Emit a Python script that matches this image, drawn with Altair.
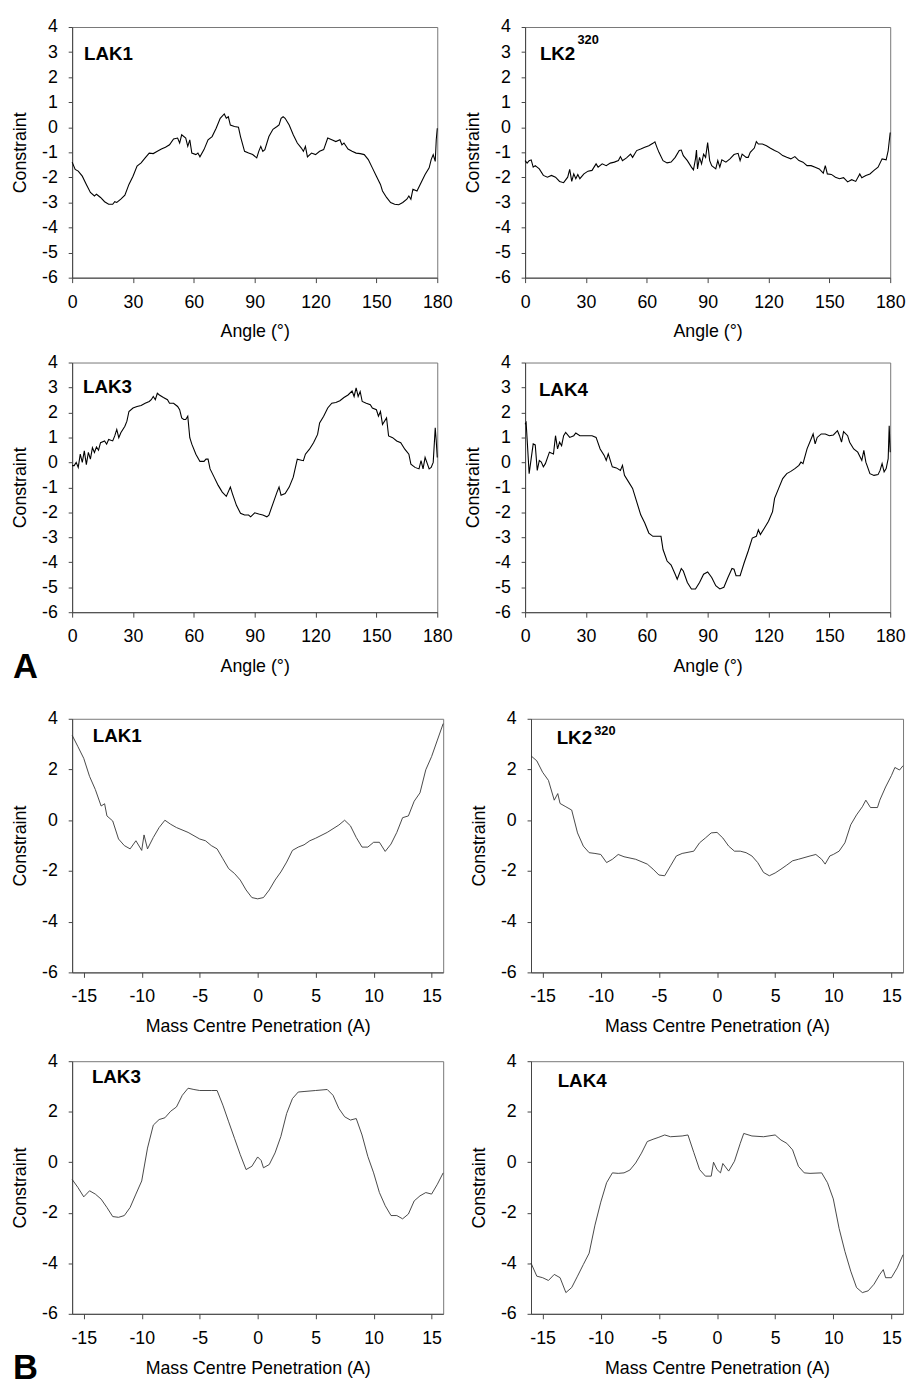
import altair as alt
import pandas as pd

FONT = "Liberation Sans"

# ---------------- Section A : constraint vs angle ----------------
a_xticks = [0, 30, 60, 90, 120, 150, 180]
a_yticks = [-6, -5, -4, -3, -2, -1, 0, 1, 2, 3, 4]

a1_x = [0, 1.5, 3, 5, 7, 9, 11, 12, 14, 16,
        18, 20, 21, 22, 24, 26, 28, 30, 32, 34,
        36, 38, 40, 42, 44, 46, 48, 50, 52, 53,
        54, 56, 57, 58, 59, 61, 62, 63, 65, 67,
        69, 71, 73, 75, 76, 77, 78, 80, 82, 83,
        85, 87, 89, 91, 92, 93, 94, 95, 97, 99,
        101, 102, 103, 104, 105, 107, 109, 111, 113, 114,
        115, 116, 118, 120, 122, 124, 126, 128, 130, 132,
        133, 134, 136, 138, 140, 142, 144, 146, 148, 150,
        152, 153, 155, 157, 159, 161, 163, 165, 166, 167,
        168, 170, 172, 174, 176, 177, 178, 179, 179.5, 180]
a1_y = [-1.39, -1.68, -1.75, -1.95, -2.28, -2.6, -2.74, -2.67, -2.8, -2.97,
        -3.07, -3.07, -2.97, -3.0, -2.87, -2.71, -2.28, -1.95, -1.55, -1.42,
        -1.22, -1.03, -1.05, -0.96, -0.87, -0.8, -0.7, -0.47, -0.43, -0.63,
        -0.3, -0.43, -0.76, -0.5, -1.03, -1.09, -1.03, -1.18, -0.89, -0.5,
        -0.37, -0.04, 0.36, 0.53, 0.36, 0.42, 0.09, 0.03, 0.0, -0.37,
        -0.96, -1.03, -1.09, -1.22, -0.96, -0.76, -0.96, -0.89, -0.37, -0.08,
        0.03, 0.09, 0.36, 0.42, 0.36, 0.09, -0.3, -0.63, -0.83, -0.96,
        -0.76, -1.18, -1.03, -1.09, -0.96, -0.89, -0.43, -0.5, -0.57, -0.5,
        -0.7, -0.63, -0.87, -0.96, -1.03, -1.05, -1.09, -1.29, -1.62, -1.95,
        -2.28, -2.54, -2.8, -3.0, -3.07, -3.09, -3.0, -2.87, -2.74, -2.87,
        -2.47, -2.54, -2.21, -1.88, -1.62, -1.29, -1.09, -1.36, -0.5, -0.04]

a2_x = [0, 1, 2, 3, 4, 5, 7, 9, 11, 13,
        15, 17, 19, 21, 22, 23, 24, 25, 26, 27,
        29, 31, 33, 35, 36, 38, 40, 42, 44, 46,
        47, 48, 50, 52, 53, 55, 57, 59, 61, 63,
        64, 65, 66, 68, 70, 72, 74, 76, 77, 78,
        80, 82, 83, 84, 84.5, 85, 86, 87, 88, 89,
        90, 91, 92, 94, 95, 96, 97, 99, 101, 103,
        105, 106, 107, 109, 110, 111, 113, 114, 115, 117,
        119, 121, 123, 125, 127, 129, 131, 133, 135, 137,
        139, 141, 143, 145, 147, 148, 149, 151, 153, 155,
        157, 159, 161, 163, 165, 166, 168, 170, 172, 174,
        176, 178, 179, 180]
a2_y = [-1.33, -1.43, -1.33, -1.30, -1.59, -1.53, -1.66, -1.92, -1.99, -1.92,
        -1.99, -2.16, -2.21, -1.99, -1.68, -2.16, -1.86, -2.05, -1.88, -2.05,
        -1.86, -1.75, -1.72, -1.46, -1.59, -1.46, -1.53, -1.43, -1.39, -1.33,
        -1.17, -1.33, -1.22, -1.07, -1.2, -0.93, -0.87, -0.8, -0.74, -0.64,
        -0.58, -0.8, -1.0, -1.33, -1.42, -1.39, -1.2, -0.93, -0.91, -1.13,
        -1.33, -1.59, -1.70, -1.26, -0.91, -1.66, -1.2, -1.46, -1.07, -1.2,
        -0.61, -1.33, -1.53, -1.66, -1.33, -1.59, -1.30, -1.39, -1.26, -1.09,
        -1.04, -1.33, -1.07, -1.2, -1.2, -1.0, -0.83, -0.57, -0.67, -0.67,
        -0.74, -0.84, -0.93, -1.0, -1.13, -1.2, -1.26, -1.17, -1.33, -1.39,
        -1.53, -1.53, -1.59, -1.66, -1.83, -1.53, -1.86, -1.88, -1.99, -2.05,
        -2.01, -2.18, -2.09, -2.16, -1.86, -2.01, -1.92, -1.86, -1.72, -1.59,
        -1.26, -1.30, -0.93, -0.21]

a3_x = [0, 1, 2, 3, 4, 5, 6, 7, 8, 9,
        10, 11, 12, 13, 14, 16, 17, 18, 20, 21,
        22, 23, 24, 26, 27, 28, 30, 32, 34, 36,
        38, 39, 40, 41, 42, 43, 45, 47, 48, 50,
        52, 53, 54, 55, 56, 57, 58, 59, 61, 63,
        65, 66, 67, 68, 70, 72, 74, 76, 78, 79,
        81, 83, 85, 87, 88, 90, 92, 94, 96, 97,
        99, 101, 102, 103, 105, 107, 109, 111, 113, 114,
        115, 117, 119, 121, 122, 124, 126, 128, 130, 132,
        134, 136, 138, 139, 140, 141, 142, 143, 145, 147,
        148, 150, 151, 152, 153, 155, 156, 158, 160, 162,
        164, 166, 167, 169, 171, 172, 173, 174, 176, 177,
        178, 179, 179.5, 180]
a3_y = [-0.13, -0.13, 0.0, -0.2, 0.33, 0.0, 0.46, -0.09, 0.40, 0.13,
        0.59, 0.4, 0.62, 0.49, 0.79, 0.86, 0.73, 0.92, 0.86, 1.06,
        1.32, 0.99, 1.19, 1.45, 1.65, 2.04, 2.18, 2.24, 2.28, 2.37,
        2.44, 2.51, 2.64, 2.51, 2.77, 2.7, 2.6, 2.51, 2.37, 2.37,
        2.24, 2.11, 1.78, 1.72, 1.72, 1.85, 0.99, 0.73, 0.33, 0.04,
        0.04, 0.13, 0.13, -0.26, -0.59, -0.92, -1.19, -1.36, -0.99, -1.25,
        -1.72, -2.04, -2.11, -2.11, -2.18, -2.02, -2.07, -2.11, -2.18, -2.11,
        -1.65, -1.19, -0.99, -1.32, -1.25, -0.99, -0.59, 0.13, 0.09, 0.07,
        0.33, 0.53, 0.79, 1.12, 1.58, 1.85, 2.18, 2.37, 2.4, 2.47,
        2.6, 2.7, 2.86, 2.64, 2.99, 2.64, 2.84, 2.44, 2.37, 2.31,
        2.18, 2.11, 1.85, 2.04, 1.52, 1.78, 1.06, 0.99, 0.86, 0.79,
        0.53, 0.33, -0.07, -0.2, -0.26, 0.07, -0.26, 0.2, -0.26, -0.2,
        0.0, 1.39, 0.86, 0.2]

a4_x = [0, 0.5, 1, 2, 3, 4, 5, 6, 7, 8,
        9, 10, 12, 14, 15, 16, 17, 18, 19, 20,
        22, 24, 25, 27, 29, 31, 33, 35, 37, 39,
        40, 41, 43, 45, 47, 48, 49, 51, 53, 55,
        57, 59, 61, 63, 65, 67, 68, 70, 72, 74,
        75, 77, 78, 80, 82, 84, 86, 88, 90, 92,
        94, 96, 98, 100, 102, 103, 104, 106, 108, 110,
        112, 114, 115, 116, 118, 120, 122, 123, 125, 127,
        129, 131, 133, 135, 136, 137, 139, 141, 142, 143,
        144, 146, 148, 150, 152, 154, 155, 156, 157, 159,
        160, 162, 164, 166, 167, 168, 170, 172, 174, 175,
        176, 177, 178, 179, 179.5, 180]
a4_y = [1.53, 1.6, 0.94, -0.45, 0.15, 0.74, 0.7, -0.32, 0.08, 0.01,
        -0.18, -0.05, 0.41, 0.34, 1.07, 0.54, 0.81, 0.67, 1.07, 1.2,
        1.0, 1.07, 1.18, 1.07, 1.07, 1.07, 1.07, 1.0, 0.54, 0.28,
        0.08, 0.34, -0.18, -0.22, -0.32, -0.12, -0.52, -0.78, -1.04, -1.57,
        -2.1, -2.43, -2.83, -2.96, -2.96, -2.96, -3.49, -3.95, -4.11, -4.48,
        -4.68, -4.25, -4.35, -4.81, -5.07, -5.07, -4.81, -4.48, -4.39, -4.61,
        -4.94, -5.07, -5.0, -4.61, -4.25, -4.28, -4.54, -4.54, -4.02, -3.55,
        -3.03, -2.96, -2.7, -2.89, -2.63, -2.36, -1.97, -1.44, -1.04, -0.65,
        -0.45, -0.36, -0.25, -0.12, 0.01, -0.05, 0.54, 0.94, 1.14, 0.74,
        1.0, 1.14, 1.14, 1.07, 1.1, 1.27, 1.07, 0.81, 1.23, 1.07,
        0.81, 0.54, 0.41, 0.08, 0.48, 0.01, -0.45, -0.52, -0.49, -0.32,
        -0.05, -0.38, -0.25, 0.15, 1.47, 0.41]

# ---------------- Section B : constraint vs mass centre penetration ----------------
b_xticks = [-15, -10, -5, 0, 5, 10, 15]
b_yticks = [-6, -4, -2, 0, 2, 4]

b1_x = [-16, -15.5, -15, -14.5, -14, -13.5, -13.2, -13, -12.5, -12,
        -11.5, -11, -10.5, -10, -9.8, -9.5, -9, -8.5, -8, -7.5,
        -7, -6, -5, -4.5, -4, -3.5, -3, -2.5, -2, -1.5,
        -1, -0.5, 0, 0.5, 1, 1.5, 2, 2.5, 3, 3.5,
        4, 4.5, 5, 6, 7, 7.5, 8, 8.5, 9, 9.5,
        10, 10.5, 11, 11.5, 12, 12.5, 13, 13.5, 14, 14.5,
        15, 15.5, 16]
b1_y = [3.35, 2.9, 2.44, 1.73, 1.21, 0.56, 0.65, 0.17, -0.03, -0.74,
        -1.0, -1.13, -0.81, -1.19, -0.58, -1.13, -0.68, -0.29, 0.0, -0.16,
        -0.29, -0.48, -0.74, -0.81, -1.0, -1.13, -1.52, -1.91, -2.1, -2.36,
        -2.75, -3.05, -3.1, -3.05, -2.75, -2.36, -2.04, -1.65, -1.19, -1.06,
        -0.97, -0.81, -0.71, -0.48, -0.19, 0.0, -0.22, -0.68, -1.06, -1.06,
        -0.87, -0.87, -1.23, -0.94, -0.48, 0.1, 0.17, 0.75, 1.08, 1.99,
        2.51, 3.16, 3.81]

b2_x = [-16, -15.5, -15, -14.5, -14, -13.7, -13.5, -13, -12.5, -12,
        -11.5, -11, -10.5, -10, -9.5, -9, -8.5, -8, -7, -6,
        -5.5, -5, -4.5, -4, -3.5, -3, -2, -1.5, -1, -0.5,
        0, 0.5, 1, 1.5, 2, 2.5, 3, 3.5, 4, 4.5,
        5, 5.5, 6, 6.5, 7, 8, 8.5, 9, 9.3, 9.7,
        10, 10.5, 11, 11.5, 12, 12.5, 12.8, 13.2, 13.8, 14,
        14.5, 15, 15.3, 15.7, 16]
b2_y = [2.54, 2.34, 1.89, 1.57, 0.79, 1.05, 0.66, 0.53, 0.4, -0.5,
        -1.02, -1.28, -1.31, -1.35, -1.67, -1.54, -1.35, -1.44, -1.54, -1.73,
        -1.93, -2.16, -2.19, -1.8, -1.41, -1.31, -1.22, -0.89, -0.7, -0.5,
        -0.48, -0.7, -1.02, -1.22, -1.22, -1.28, -1.41, -1.67, -2.06, -2.19,
        -2.08, -1.93, -1.77, -1.6, -1.54, -1.41, -1.35, -1.54, -1.73, -1.41,
        -1.35, -1.22, -0.89, -0.18, 0.21, 0.53, 0.79, 0.5, 0.5, 0.79,
        1.31, 1.76, 2.08, 1.98, 2.15]

b3_x = [-16, -15.5, -15, -14.5, -14, -13.5, -13, -12.5, -12, -11.5,
        -11, -10.5, -10, -9.5, -9, -8.5, -8, -7.5, -7, -6.5,
        -6, -5.5, -5, -4, -3.5, -3, -2.5, -2, -1.5, -1,
        -0.5, 0, 0.3, 0.5, 1, 1.5, 2, 2.5, 3, 3.5,
        4, 5, 6, 6.5, 7, 7.5, 8, 8.5, 9, 9.5,
        10, 10.5, 11, 11.5, 12, 12.5, 13, 13.5, 14, 14.5,
        15, 15.5, 16]
b3_y = [-0.68, -1.0, -1.37, -1.13, -1.26, -1.46, -1.79, -2.15, -2.18, -2.11,
        -1.79, -1.26, -0.74, 0.56, 1.47, 1.69, 1.76, 2.02, 2.19, 2.65,
        2.93, 2.88, 2.84, 2.84, 2.84, 2.26, 1.6, 0.95, 0.3, -0.29,
        -0.16, 0.21, 0.07, -0.22, -0.09, 0.37, 1.02, 1.93, 2.52, 2.78,
        2.8, 2.84, 2.88, 2.65, 2.13, 1.8, 1.67, 1.73, 1.08, 0.23,
        -0.42, -1.2, -1.72, -2.11, -2.11, -2.24, -2.05, -1.53, -1.33, -1.2,
        -1.26, -0.87, -0.42]

b4_x = [-16, -15.5, -15, -14.5, -14, -13.5, -13, -12.5, -12, -11.5,
        -11, -10.5, -10, -9.5, -9, -8.5, -8, -7.5, -7, -6.5,
        -6, -5.5, -5, -4.5, -4, -3, -2.5, -2, -1.5, -1,
        -0.5, -0.3, 0, 0.3, 0.5, 1, 1.5, 2, 2.3, 3,
        4, 5, 5.5, 6, 6.5, 7, 7.5, 8, 9, 9.5,
        10, 10.5, 11, 11.5, 12, 12.5, 13, 13.5, 14, 14.3,
        14.5, 15, 15.5, 16]
b4_y = [-3.99, -4.51, -4.57, -4.68, -4.44, -4.57, -5.16, -4.96, -4.51, -4.05,
        -3.6, -2.49, -1.58, -0.81, -0.42, -0.44, -0.42, -0.31, -0.03, 0.36,
        0.82, 0.91, 0.99, 1.08, 1.01, 1.04, 1.08, 0.39, -0.29, -0.55,
        -0.55, 0.0, -0.29, -0.42, -0.05, -0.35, 0.04, 0.75, 1.14, 1.04,
        1.01, 1.08, 0.88, 0.75, 0.49, -0.16, -0.42, -0.44, -0.42, -0.81,
        -1.45, -2.62, -3.53, -4.31, -4.96, -5.16, -5.09, -4.83, -4.44, -4.25,
        -4.57, -4.57, -4.18, -3.66]

A_TITLE = "Angle (°)"
B_TITLE = "Mass Centre Penetration (A)"
Y_TITLE = "Constraint"


def panel(xs, ys, xdom, xvals, yvals, xtitle, w, h, label, lab_x, lab_y,
          sup=None, sup_y=None, letter=None, letter_y=None,
          color="black", sw=1.0):
    df = pd.DataFrame({"x": xs, "y": ys})
    line = alt.Chart(df).mark_line(color=color, strokeWidth=sw).encode(
        x=alt.X("x:Q",
                scale=alt.Scale(domain=xdom, nice=False, zero=False),
                axis=alt.Axis(values=xvals, title=xtitle,
                              labelExpr="'' + datum.value")),
        y=alt.Y("y:Q",
                scale=alt.Scale(domain=[-6, 4], nice=False, zero=False),
                axis=alt.Axis(values=yvals, title=Y_TITLE,
                              labelExpr="'' + datum.value")),
    )
    layers = [line]
    layers.append(
        alt.Chart(pd.DataFrame({"t": [label]})).mark_text(
            align="left", baseline="alphabetic", fontSize=19,
            fontWeight="bold", font=FONT, color="black"
        ).encode(text="t:N", x=alt.value(lab_x), y=alt.value(lab_y))
    )
    if sup:
        layers.append(
            alt.Chart(pd.DataFrame({"t": [sup]})).mark_text(
                align="left", baseline="alphabetic", fontSize=13,
                fontWeight="bold", font=FONT, color="black"
            ).encode(text="t:N", x=alt.value(lab_x + 38), y=alt.value(sup_y))
        )
    if letter:
        layers.append(
            alt.Chart(pd.DataFrame({"t": [letter]})).mark_text(
                align="left", baseline="alphabetic", fontSize=35,
                fontWeight="bold", font=FONT, color="black"
            ).encode(text="t:N", x=alt.value(-60), y=alt.value(letter_y))
        )
    return alt.layer(*layers).properties(width=w, height=h)


p1 = panel(a1_x, a1_y, [0, 180], a_xticks, a_yticks, A_TITLE, 370, 254, "LAK1", 12, 33, sw=1.1)
p2 = panel(a2_x, a2_y, [0, 180], a_xticks, a_yticks, A_TITLE, 370, 254, "LK2", 15, 33,
           sup="320", sup_y=17, sw=1.1)
p3 = panel(a3_x, a3_y, [0, 180], a_xticks, a_yticks, A_TITLE, 370, 253, "LAK3", 11, 31,
           letter="A", letter_y=320, sw=1.1)
p4 = panel(a4_x, a4_y, [0, 180], a_xticks, a_yticks, A_TITLE, 370, 253, "LAK4", 14, 34, sw=1.1)

p5 = panel(b1_x, b1_y, [-16, 16], b_xticks, b_yticks, B_TITLE, 376, 257, "LAK1", 21, 24,
           color="#333333", sw=0.9)
p6 = panel(b2_x, b2_y, [-16, 16], b_xticks, b_yticks, B_TITLE, 377, 257, "LK2", 26, 26,
           sup="320", sup_y=16, color="#333333", sw=0.9)
p7 = panel(b3_x, b3_y, [-16, 16], b_xticks, b_yticks, B_TITLE, 376, 256, "LAK3", 20, 22,
           letter="B", letter_y=322, color="#333333", sw=0.9)
p8 = panel(b4_x, b4_y, [-16, 16], b_xticks, b_yticks, B_TITLE, 377, 256, "LAK4", 27, 26,
           color="#333333", sw=0.9)

rowA1 = alt.hconcat(p1, p2, spacing=89, bounds="flush")
rowA2 = alt.hconcat(p3, p4, spacing=89, bounds="flush")
rowB1 = alt.hconcat(p5, p6, spacing=89, bounds="flush")
rowB2 = alt.hconcat(p7, p8, spacing=89, bounds="flush")

secA = alt.vconcat(rowA1, rowA2, spacing=11)
secB = alt.vconcat(rowB1, rowB2, spacing=15)

chart = alt.vconcat(secA, secB, spacing=23).properties(
    padding={"left": 3, "top": 0, "right": 0, "bottom": 0}
).configure(
    font=FONT,
    background="white",
).configure_view(
    stroke="#777777", strokeWidth=1
).configure_axis(
    grid=False,
    labelFont=FONT, titleFont=FONT,
    labelFontSize=18, titleFontSize=18,
    titleFontWeight="normal",
    labelColor="black", titleColor="black",
    domainColor="#444444", tickColor="#444444",
    domainWidth=1, tickWidth=1,
    labelFlush=False, labelOverlap=False,
).configure_axisX(
    tickSize=5, labelPadding=11, titlePadding=12,
).configure_axisY(
    tickSize=4, labelPadding=11, titlePadding=12,
)

chart.save("out.html", embed_options={"renderer": "svg", "actions": False})
